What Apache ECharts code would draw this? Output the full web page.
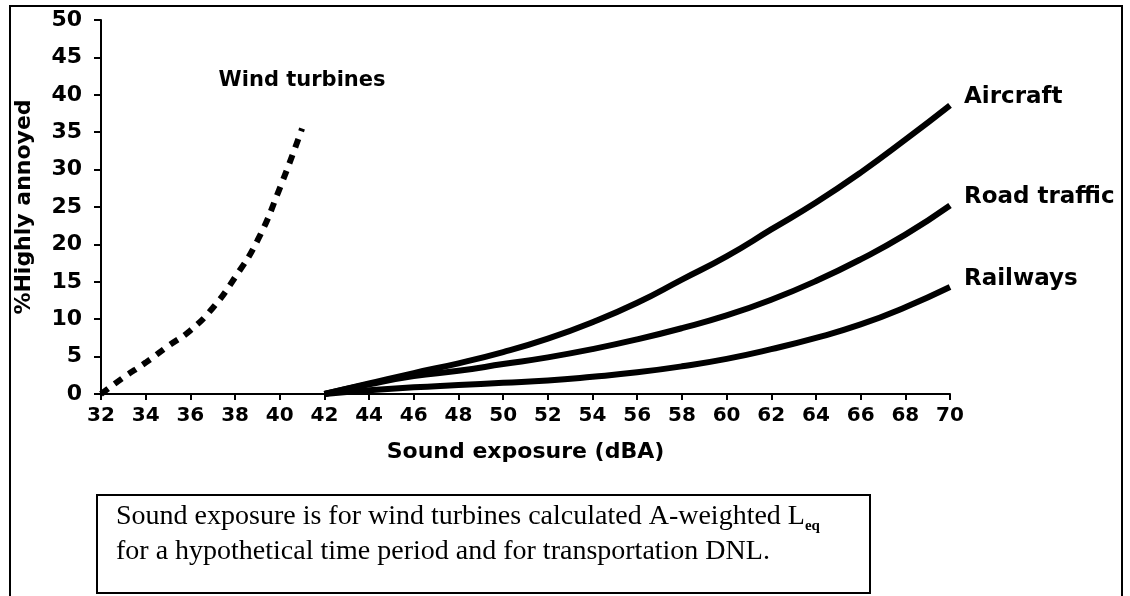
<!DOCTYPE html>
<html>
<head>
    <meta charset="utf-8">
    <title>Annoyance vs sound exposure</title>
    <script src="https://cdn.jsdelivr.net/npm/echarts@6/dist/echarts.min.js"></script>
</head>
<body style="margin:0">
    <div id="main" style="width:1130px;height:596px;"></div>
    <script type="text/javascript">
        // wind turbines (dashed curve)
        var windX = [32, 33, 34, 35, 36, 37, 38, 39, 40, 41];
        var windY = [0, 2.2, 4.2, 6.4, 8.5, 11.5, 15.6, 20.5, 27.5, 35.5];
        // transportation curves
        var transX = [42, 44, 46, 48, 50, 52, 54, 56, 58, 60, 62, 64, 66, 68, 70];
        var aircraft = [0, 1.4, 2.8, 4.1, 5.6, 7.4, 9.6, 12.2, 15.3, 18.4, 22.0, 25.6, 29.6, 34.0, 38.6];
        var roadTraffic = [0, 1.3, 2.4, 3.1, 4.0, 4.9, 6.0, 7.3, 8.8, 10.5, 12.6, 15.1, 18.0, 21.3, 25.2];
        var railways = [0, 0.5, 0.9, 1.2, 1.5, 1.8, 2.3, 2.9, 3.7, 4.7, 6.0, 7.5, 9.3, 11.6, 14.3];

        var boldFont = 'DejaVu Sans';

        function pairs(xs, ys) {
            var out = [];
            for (var i = 0; i < xs.length; i++) {
                out.push([xs[i], ys[i]]);
            }
            return out;
        }

        function curve(name, ys) {
            return {
                name: name,
                type: 'line',
                data: pairs(transX, ys),
                smooth: true,
                showSymbol: false,
                lineStyle: { color: '#000', width: 6 },
                endLabel: {
                    show: true,
                    formatter: '{a}',
                    offset: [6, -8],
                    color: '#000',
                    fontFamily: boldFont,
                    fontWeight: 'bold',
                    fontSize: 23
                }
            };
        }

        var myChart = echarts.init(document.getElementById('main'));
        var option = {
            animation: false,
            backgroundColor: '#fff',
            grid: { left: 101, right: 180, top: 20, bottom: 202 },
            xAxis: {
                type: 'value',
                min: 32,
                max: 70,
                interval: 2,
                name: 'Sound exposure (dBA)',
                nameLocation: 'middle',
                nameGap: 47,
                nameTextStyle: { color: '#000', fontFamily: boldFont, fontWeight: 'bold', fontSize: 22 },
                axisLine: { lineStyle: { color: '#000', width: 2 } },
                axisTick: { length: 6, lineStyle: { color: '#000', width: 2 } },
                axisLabel: { margin: 12, color: '#000', fontFamily: boldFont, fontWeight: 'bold', fontSize: 20 },
                splitLine: { show: false }
            },
            yAxis: {
                type: 'value',
                min: 0,
                max: 50,
                interval: 5,
                name: '%Highly annoyed',
                nameLocation: 'middle',
                nameGap: 66,
                nameRotate: 90,
                nameTextStyle: { color: '#000', fontFamily: boldFont, fontWeight: 'bold', fontSize: 22 },
                axisLine: { show: true, lineStyle: { color: '#000', width: 2 } },
                axisTick: { show: true, length: 7, lineStyle: { color: '#000', width: 2 } },
                axisLabel: { margin: 19, color: '#000', fontFamily: boldFont, fontWeight: 'bold', fontSize: 22 },
                splitLine: { show: false }
            },
            series: [
                {
                    name: 'Wind turbines',
                    type: 'line',
                    data: pairs(windX, windY),
                    smooth: true,
                    showSymbol: false,
                    lineStyle: { color: '#000', width: 6, type: [9, 8], cap: 'butt' },
                    markPoint: {
                        symbolSize: 0,
                        data: [{ coord: [41.0, 41.9] }],
                        label: {
                            show: true,
                            position: 'inside',
                            formatter: 'Wind turbines',
                            color: '#000',
                            fontFamily: boldFont,
                            fontWeight: 'bold',
                            fontSize: 21
                        }
                    }
                },
                curve('Aircraft', aircraft),
                curve('Road traffic', roadTraffic),
                curve('Railways', railways)
            ],
            graphic: [
                {
                    type: 'rect',
                    shape: { x: 10, y: 6, width: 1112, height: 600 },
                    style: { fill: 'none', stroke: '#000', lineWidth: 2 },
                    silent: true
                },
                {
                    type: 'rect',
                    shape: { x: 97, y: 495, width: 773, height: 98 },
                    style: { fill: '#fff', stroke: '#000', lineWidth: 2 },
                    silent: true
                },
                {
                    type: 'text',
                    x: 116,
                    y: 499,
                    style: {
                        text: '{m|Sound exposure is for wind turbines calculated A-weighted L}{s|eq}\n{m|for a hypothetical time period and for transportation DNL.}',
                        verticalAlign: 'top',
                        rich: {
                            m: { fontFamily: 'Liberation Serif', fontSize: 28, lineHeight: 35, fill: '#000' },
                            s: { fontFamily: 'Liberation Serif', fontSize: 15, lineHeight: 16, verticalAlign: 'bottom', fontWeight: 'bold', fill: '#000' }
                        }
                    },
                    silent: true
                }
            ]
        };
        myChart.setOption(option);
    </script>
</body>
</html>
